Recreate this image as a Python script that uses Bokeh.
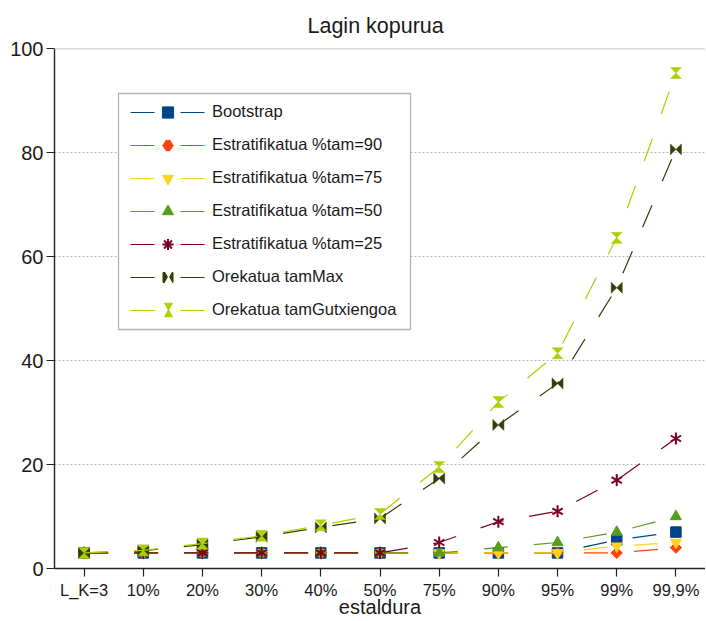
import numpy as np
from bokeh.plotting import figure
from bokeh.models import Range1d, FixedTicker, Span, Legend, LegendItem, BoxAnnotation
from bokeh.embed import file_html
from bokeh.resources import INLINE

# ---------------- data ----------------
categories = ["L_K=3", "10%", "20%", "30%", "40%", "50%", "75%", "90%", "95%", "99%", "99,9%"]
bootstrap = [3, 3, 3, 3, 3, 3, 3, 3, 3, 5.5, 7]
estrat90 = [3, 3, 3, 3, 3, 3, 3, 3, 3, 3, 4]
estrat75 = [3, 3, 3, 3, 3, 3, 3, 3, 3, 4.3, 5]
estrat50 = [3, 3, 3, 3, 3, 3, 3, 4, 5, 7, 10]
estrat25 = [3, 3, 3, 3, 3, 3, 5, 9, 11, 17, 25]
tam_max = [3, 3.4, 4.6, 6.1, 7.9, 9.6, 17.3, 27.6, 35.6, 54, 80.6]
tam_gutx = [3, 3.5, 4.8, 6.3, 8.3, 10.5, 19.5, 32, 41.4, 63.6, 95.3]
series_names = ["Bootstrap", "Estratifikatua %tam=90", "Estratifikatua %tam=75",
                "Estratifikatua %tam=50", "Estratifikatua %tam=25",
                "Orekatua tamMax", "Orekatua tamGutxiengoa"]
y_ticks = [0, 20, 40, 60, 80, 100]
x_title = "estaldura"
chart_title = "Lagin kopurua"

# ---------------- style / layout ----------------
colors = ["#004586", "#ff420e", "#ffd320", "#579d1c", "#7e0021", "#314004", "#aecf00"]
FONT = "Liberation Sans"
TXT = "#1a1a1a"
ORIGIN = 0
W, H = 705, 620
FRAME_L, FRAME_T, FRAME_B = 54, 47, 568          # page pixels
BL, BT = FRAME_L - ORIGIN, FRAME_T - ORIGIN
BR = 0
FW, FH = W - BL - BR, FRAME_B - FRAME_T
BB = H - BT - FH
DASH = "24 26"
LW = 1.2

x = list(range(len(categories)))
p = figure(width=W, height=H, x_range=Range1d(-0.5, len(categories) - 0.5),
           y_range=Range1d(0, 100), output_backend="svg", toolbar_location=None,
           min_border_left=BL, min_border_right=BR, min_border_top=BT,
           min_border_bottom=BB, title=chart_title)
p.outline_line_color = None
p.background_fill_color = "white"

p.title.align = "left"
p.title.offset = 307 - FRAME_L
p.title.text_font = FONT
p.title.text_font_size = "21.5px"
p.title.text_font_style = "normal"
p.title.text_color = TXT
p.title.standoff = 22

p.xaxis.ticker = FixedTicker(ticks=x)
p.xaxis.major_label_overrides = {i: c for i, c in enumerate(categories)}
p.yaxis.ticker = FixedTicker(ticks=y_ticks)
for ax in (p.xaxis, p.yaxis):
    ax.axis_line_color = "#222222"
    ax.axis_line_width = 1.4
    ax.major_tick_line_color = "#222222"
    ax.major_tick_line_width = 1.2
    ax.major_tick_in = 0
    ax.major_tick_out = 8
    ax.minor_tick_line_color = None
    ax.major_label_text_font = FONT
    ax.major_label_text_color = TXT
p.xaxis.major_label_text_font_size = "16.5px"
p.yaxis.major_label_text_font_size = "20px"
p.xaxis.major_label_standoff = 4
p.yaxis.major_label_standoff = 3
p.xaxis.axis_label = x_title
p.xaxis.axis_label_text_font = FONT
p.xaxis.axis_label_text_font_size = "20px"
p.xaxis.axis_label_text_font_style = "normal"
p.xaxis.axis_label_text_color = TXT
p.xaxis.axis_label_standoff = -6

p.xgrid.visible = False
p.ygrid.ticker = FixedTicker(ticks=y_ticks)
p.ygrid.grid_line_color = "#b3b3b3"
p.ygrid.grid_line_dash = "2 2"
p.ygrid.grid_line_width = 1
p.add_layout(Span(location=100, dimension="width", line_color="#b3b3b3", line_width=1.3))

# marker half-size in data units for the custom bowtie / hourglass shapes
HALF = 5.5
dx = HALF / (FW / len(categories))
dy = HALF / (FH / 100.0)


def bowtie(xs, ys):
    return ([[xi - dx, xi, xi + dx, xi + dx, xi, xi - dx] for xi in xs],
            [[yi + dy, yi, yi + dy, yi - dy, yi, yi - dy] for yi in ys])


def hourglass(xs, ys):
    return ([[xi - dx, xi + dx, xi, xi + dx, xi - dx, xi] for xi in xs],
            [[yi + dy, yi + dy, yi, yi - dy, yi - dy, yi] for yi in ys])


nan = np.array([np.nan])
all_series = [bootstrap, estrat90, estrat75, estrat50, estrat25, tam_max, tam_gutx]
line_r = []
legend_marks = []
for i, ys in enumerate(all_series):
    c = colors[i]
    lr = p.line(x, ys, line_color=c, line_width=LW, line_dash=DASH)
    line_r.append(lr)
    if i == 0:
        m = [p.scatter(x, ys, marker="square", size=10.5, color=c)]
    elif i == 1:
        p.scatter(x, ys, marker="square", size=8, angle=np.pi / 4, color=c)
        m = [p.scatter(nan, nan, marker="diamond", size=11, color=c)]
    elif i == 2:
        m = [p.scatter(x, ys, marker="inverted_triangle", size=11, color=c)]
    elif i == 3:
        m = [p.scatter(x, ys, marker="triangle", size=11, color=c)]
    elif i == 4:
        for a in (np.pi / 2, np.pi / 6, -np.pi / 6):
            p.scatter(x, ys, marker="dash", size=12, angle=a, line_color=c, line_width=2)
        m = [p.scatter(nan, nan, marker="asterisk", size=11, line_color=c, line_width=2)]
    elif i == 5:
        bx, by = bowtie(x, ys)
        p.patches(bx, by, fill_color=c, line_color=c, line_width=0.5)
        m = []
    else:
        hx, hy = hourglass(x, ys)
        p.patches(hx, hy, fill_color=c, line_color=c, line_width=0.5)
        m = []
    legend_marks.append(m)

# ---------------- legend ----------------
LEG_PAD, GW, GH, SP = 12, 75, 28, 5
BOX_L, BOX_R, BOX_T, BOX_B = 118, 410, 93, 329      # page pixels of the legend frame
leg_left_page = BOX_L
leg_first_center = 111.5
n = len(series_names)
leg_height = 2 * LEG_PAD + n * GH + (n - 1) * SP
leg_top = leg_first_center - GH / 2 - LEG_PAD
loc_x = leg_left_page - FRAME_L
loc_y = FRAME_B - (leg_top + leg_height)

p.add_layout(BoxAnnotation(left=BOX_L - ORIGIN, right=BOX_R - ORIGIN,
                           top=BOX_T - ORIGIN, bottom=BOX_B - ORIGIN,
                           left_units="canvas", right_units="canvas",
                           top_units="canvas", bottom_units="canvas",
                           fill_color="white", fill_alpha=1.0,
                           line_color="#b3b3b3", line_width=1.3, line_alpha=1.0))

legend_kw = dict(padding=LEG_PAD, spacing=SP, glyph_height=GH, label_standoff=7,
                 margin=0, border_line_alpha=0, background_fill_alpha=0,
                 label_text_font=FONT, label_text_font_size="16.5px", label_height=20)

items = [LegendItem(label=series_names[i], renderers=[line_r[i]] + legend_marks[i]) for i in range(n)]
main_leg = Legend(items=items, location=(loc_x, loc_y), glyph_width=GW,
                  label_text_color=TXT, **legend_kw)
p.add_layout(main_leg)

# overlay legends composing legend markers that need offsets
dummy = p.scatter(nan, nan, size=1, fill_alpha=0, line_alpha=0)
cx_page = leg_left_page + LEG_PAD + GW / 2


def overlay(row, rend, ox, oy, ogw):
    its = [LegendItem(label=" ", renderers=[rend if k == row else dummy]) for k in range(n)]
    left_page = cx_page + ox - ogw / 2 - LEG_PAD
    p.add_layout(Legend(items=its, location=(left_page - FRAME_L, loc_y - oy),
                        glyph_width=ogw, label_text_alpha=0, **legend_kw))


TRI = 8
off = TRI * np.sqrt(3) / 2 * 2 / 3
dia = p.scatter(nan, nan, marker="diamond", size=11, color=colors[1])
overlay(1, dia, -1.5, 0, 28)
overlay(1, dia, 1.5, 0, 28)
sq = p.scatter(nan, nan, marker="square", size=10, color=colors[5])
w_dn = p.scatter(nan, nan, marker="inverted_triangle", size=TRI, color="white")
w_up = p.scatter(nan, nan, marker="triangle", size=TRI, color="white")
overlay(5, sq, 0, 0, 25)
overlay(5, w_dn, 0, -off, 20)
overlay(5, w_up, 0, off, 20)
h_dn = p.scatter(nan, nan, marker="inverted_triangle", size=TRI, color=colors[6])
h_up = p.scatter(nan, nan, marker="triangle", size=TRI, color=colors[6])
overlay(6, h_dn, 0, -off, 20)
overlay(6, h_up, 0, off, 20)

open("out.html", "w").write(file_html(p, INLINE))
